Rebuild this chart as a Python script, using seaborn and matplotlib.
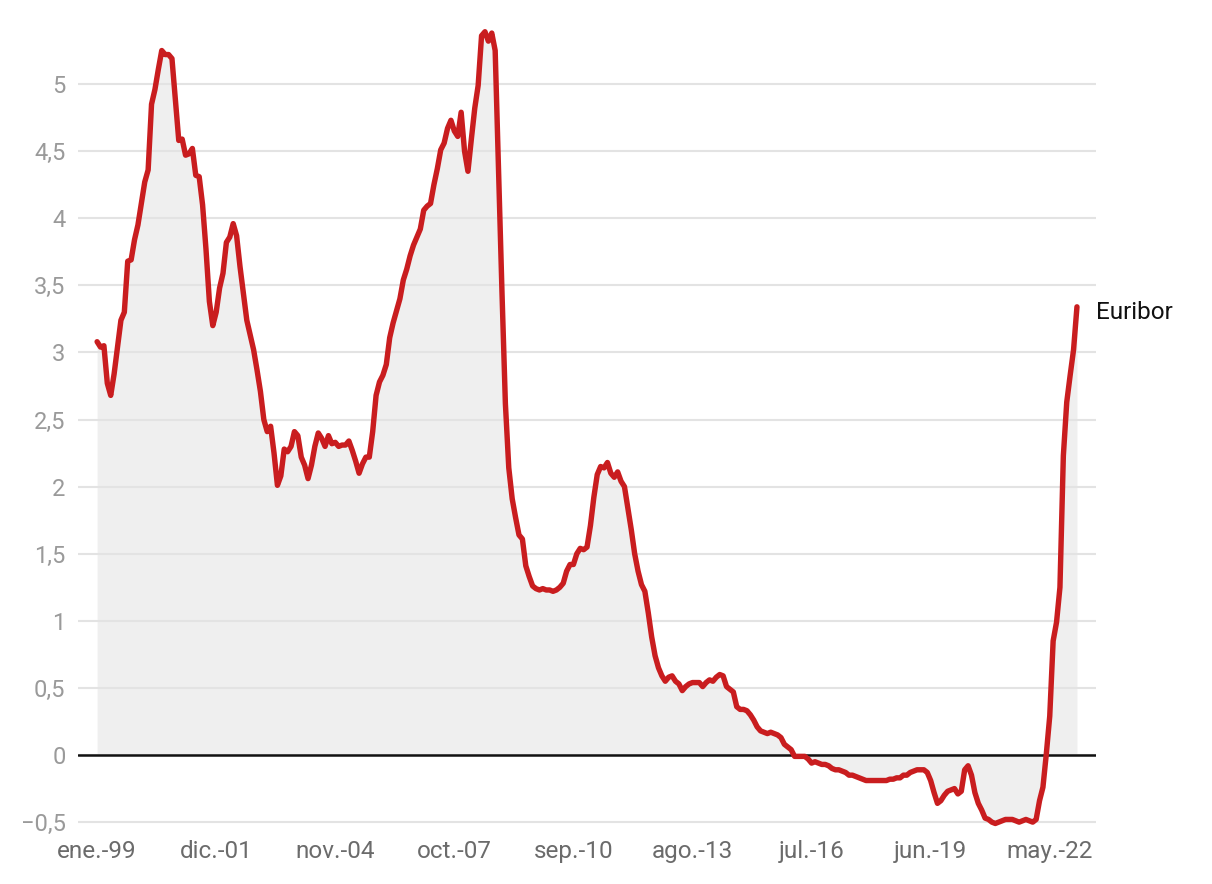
import numpy as np
import pandas as pd
import matplotlib
matplotlib.use("Agg")
import matplotlib.pyplot as plt
from matplotlib.ticker import FuncFormatter
import seaborn as sns

# Euribor 12 meses, media mensual (%), ene.-1999 a ene.-2023
y1999 = [3.08, 3.04, 3.05, 2.77, 2.68, 2.84, 3.04, 3.24, 3.30, 3.68, 3.69, 3.84]
y2000 = [3.95, 4.11, 4.27, 4.36, 4.85, 4.96, 5.11, 5.25, 5.22, 5.22, 5.19, 4.88]
y2001 = [4.58, 4.59, 4.47, 4.48, 4.52, 4.32, 4.31, 4.10, 3.77, 3.38, 3.20, 3.30]
y2002 = [3.48, 3.59, 3.82, 3.86, 3.96, 3.87, 3.64, 3.44, 3.24, 3.13, 3.02, 2.87]
y2003 = [2.71, 2.50, 2.41, 2.45, 2.25, 2.01, 2.08, 2.28, 2.26, 2.30, 2.41, 2.38]
y2004 = [2.22, 2.16, 2.06, 2.16, 2.30, 2.40, 2.36, 2.30, 2.38, 2.32, 2.33, 2.30]
y2005 = [2.31, 2.31, 2.34, 2.27, 2.19, 2.10, 2.17, 2.22, 2.22, 2.41, 2.68, 2.78]
y2006 = [2.83, 2.91, 3.11, 3.22, 3.31, 3.40, 3.54, 3.62, 3.72, 3.80, 3.86, 3.92]
y2007 = [4.06, 4.09, 4.11, 4.25, 4.37, 4.51, 4.56, 4.67, 4.73, 4.65, 4.61, 4.79]
y2008 = [4.50, 4.35, 4.59, 4.82, 4.99, 5.36, 5.39, 5.32, 5.38, 5.25, 4.35, 3.45]
y2009 = [2.62, 2.14, 1.91, 1.77, 1.64, 1.61, 1.41, 1.33, 1.26, 1.24, 1.23, 1.24]
y2010 = [1.23, 1.23, 1.22, 1.23, 1.25, 1.28, 1.37, 1.42, 1.42, 1.50, 1.54, 1.53]
y2011 = [1.55, 1.71, 1.92, 2.09, 2.15, 2.14, 2.18, 2.10, 2.07, 2.11, 2.04, 2.00]
y2012 = [1.84, 1.68, 1.50, 1.37, 1.27, 1.22, 1.06, 0.88, 0.74, 0.65, 0.59, 0.55]
y2013 = [0.58, 0.59, 0.55, 0.53, 0.48, 0.51, 0.53, 0.54, 0.54, 0.54, 0.51, 0.54]
y2014 = [0.56, 0.55, 0.58, 0.60, 0.59, 0.51, 0.49, 0.47, 0.36, 0.34, 0.34, 0.33]
y2015 = [0.30, 0.26, 0.21, 0.18, 0.17, 0.16, 0.17, 0.16, 0.15, 0.13, 0.08, 0.06]
y2016 = [0.04, -0.01, -0.01, -0.01, -0.01, -0.03, -0.06, -0.05, -0.06, -0.07, -0.07, -0.08]
y2017 = [-0.10, -0.11, -0.11, -0.12, -0.13, -0.15, -0.15, -0.16, -0.17, -0.18, -0.19, -0.19]
y2018 = [-0.19, -0.19, -0.19, -0.19, -0.19, -0.18, -0.18, -0.17, -0.17, -0.15, -0.15, -0.13]
y2019 = [-0.12, -0.11, -0.11, -0.11, -0.13, -0.19, -0.28, -0.36, -0.34, -0.30, -0.27, -0.26]
y2020 = [-0.25, -0.29, -0.27, -0.11, -0.08, -0.15, -0.28, -0.36, -0.41, -0.47, -0.48, -0.50]
y2021 = [-0.51, -0.50, -0.49, -0.48, -0.48, -0.48, -0.49, -0.50, -0.49, -0.48, -0.49, -0.50]
y2022 = [-0.48, -0.34, -0.24, 0.01, 0.29, 0.85, 0.99, 1.25, 2.23, 2.63, 2.83, 3.02]
y2023 = [3.34]

tick_labels = ["ene.-99", "dic.-01", "nov.-04", "oct.-07", "sep.-10",
               "ago.-13", "jul.-16", "jun.-19", "may.-22"]
y_ticks = [-0.5, 0, 0.5, 1, 1.5, 2, 2.5, 3, 3.5, 4, 4.5, 5]
series_name = "Euribor"

values = (y1999 + y2000 + y2001 + y2002 + y2003 + y2004 + y2005 + y2006 + y2007
          + y2008 + y2009 + y2010 + y2011 + y2012 + y2013 + y2014 + y2015
          + y2016 + y2017 + y2018 + y2019 + y2020 + y2021 + y2022 + y2023)
df = pd.DataFrame({"mes": np.arange(len(values)), "tipo": values})

sns.set_style("white")
plt.rcParams['font.family'] = ['Roboto', 'DejaVu Sans']

fig = plt.figure(figsize=(12.12, 8.84), dpi=100)
ax = fig.add_axes([0.0644, 0.0624, 0.8399, 0.9184])

red = "#c91d1f"
ax.fill_between(df["mes"], 0, df["tipo"], color="#efefef", linewidth=0, zorder=0.3)
sns.lineplot(data=df, x="mes", y="tipo", ax=ax, color=red, linewidth=3.9, zorder=3)
for l in ax.lines:
    l.set_solid_capstyle("round")
    l.set_solid_joinstyle("round")

ax.axhline(0, color="#111111", linewidth=1.8, zorder=2)

ax.set_xlim(-5.6, 293.6)
ax.set_ylim(-0.55, 5.5)
ax.set_yticks(y_ticks)
ax.yaxis.set_major_formatter(FuncFormatter(
    lambda v, p: ("%g" % v).replace(".", ",").replace("-", "\u2212")))
ax.set_xticks(np.arange(len(tick_labels)) * 35)
ax.set_xticklabels(tick_labels)

ax.grid(axis="y", color="#e3e3e3", linewidth=1.5, zorder=0.5)
ax.grid(axis="x", visible=False)
ax.set_axisbelow(True)
for s in ax.spines.values():
    s.set_visible(False)

ax.tick_params(axis="y", length=0, pad=9, labelsize=17, labelcolor="#9a9a9a")
ax.tick_params(axis="x", length=0, pad=8, labelsize=17.5, labelcolor="#6b6b6b")
ax.set_xlabel("")
ax.set_ylabel("")

ax.annotate(series_name, xy=(df["mes"].iloc[-1], df["tipo"].iloc[-1]),
            xytext=(14, -4), textcoords="offset points", va="center", ha="left",
            fontsize=17.5, color="#111111", annotation_clip=False)

fig.savefig("out.png", dpi=100)
